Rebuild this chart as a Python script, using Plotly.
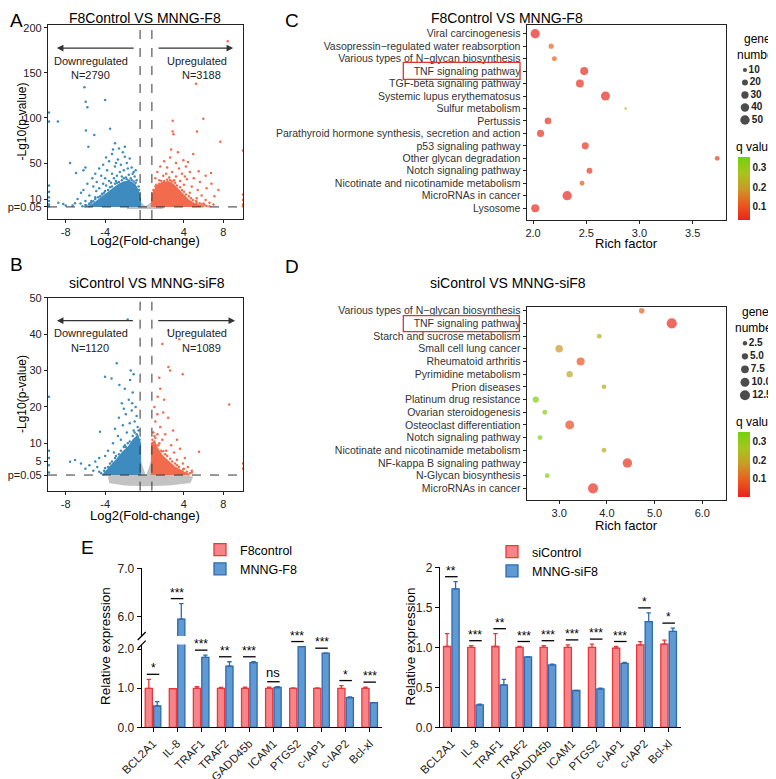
import plotly.graph_objects as go

W, H = 776, 779
OFF = 8  # the page body adds an 8 px margin; all positions below are given in window pixels
FONT = "Liberation Sans, Arial, Helvetica, sans-serif"
DARK = "#222222"
BLUE_PT = "#3E8BC0"
ORANGE_PT = "#F26B4C"
GREY_PT = "#C3C3C3"


def fx(px):
    return (px - OFF) / W


def fy(py):
    return 1 - (py - OFF) / H


# ---------------- Panel A : F8Control VS MNNG-F8 volcano ----------------
a_down_pts = [(-6.1, 134), (-5.97, 118), (-5.8, 112), (-4.0, 120), (-3.5, 88), (-5.95, 86), (-5.1, 81),
              (-9.7, 96), (-8.8, 96), (-9.7, 106), (-7.56, 50), (-6.95, 39), (-6.2, 42), (-6.0, 45),
              (-6.45, 17), (-7.06, 5.3), (-8.75, 6), (-8.25, 4.5), (-9.7, 4), (-9.7, 8), (-9.7, 12),
              (-9.7, 18), (-9.7, 25), (-9.7, 2), (-4.85, 29), (-5.7, 68), (-3.0, 72), (-2.6, 66),
              (-2.2, 62), (-3.3, 60), (-2.0, 57), (-1.5, 55), (-2.7, 54), (-3.6, 52), (-4.2, 48),
              (-1.8, 50), (-2.4, 48), (-3.0, 46), (-1.3, 45), (-4.6, 44), (-3.8, 42), (-2.1, 42),
              (-1.1, 40), (-5.0, 38), (-4.4, 36), (-3.3, 38), (-2.8, 36), (-1.6, 37), (-5.3, 33),
              (-4.0, 33), (-3.6, 30), (-5.8, 27), (-5.2, 24), (-4.6, 22), (-6.2, 20), (-5.6, 14),
              (-6.8, 10), (-6.0, 8), (-5.0, 12), (-4.3, 16), (-7.3, 3), (-6.5, 5), (-5.6, 4), (-8.0, 3),
              (-3.9, 25), (-2.5, 40), (-1.9, 34), (-1.4, 33), (-3.1, 33), (-4.9, 19), (-5.4, 8),
              (-1.0, 35), (-0.8, 31), (-2.3, 35), (-3.4, 28), (-4.2, 27), (-2.9, 30), (-1.2, 38),
              (-0.9, 42), (-1.7, 44), (-2.9, 50), (-3.9, 56), (-3.2, 65), (-2.0, 68),
              (-0.6, 24), (-0.9, 28), (-1.3, 31), (-1.8, 32), (-2.3, 31), (-2.8, 28), (-3.3, 24),
              (-3.7, 20), (-4.1, 17), (-4.5, 13), (-5.0, 10), (-5.4, 6), (-5.9, 3), (-6.3, 2),
              (-1.1, 29.5), (-2.1, 33), (-3.0, 27), (-4.0, 19), (-4.7, 12), (-5.2, 7.5), (-0.5, 15),
              (-0.55, 20), (-1.6, 30.5), (-2.6, 29), (-3.5, 23), (-4.3, 15), (-5.6, 5), (-6.0, 3.5)]
a_up_pts = [(8.45, 185), (5.23, 138), (2.86, 97), (5.97, 99), (2.86, 85), (2.95, 82), (5.33, 85),
            (7.7, 73.5), (6.75, 39), (3.94, 53), (4.94, 60), (5.63, 29), (6.3, 22), (7.1, 13),
            (10.0, 64), (10.0, 9), (10.0, 4), (10.0, 15), (10.0, 2), (2.0, 52), (2.6, 56), (3.2, 50),
            (1.6, 46), (2.3, 45), (3.5, 44), (4.2, 46), (1.3, 40), (2.8, 40), (3.8, 38), (4.6, 40),
            (1.9, 36), (3.2, 35), (4.3, 32), (5.0, 33), (2.5, 34), (1.1, 33), (4.0, 26), (4.8, 24),
            (5.4, 20), (4.6, 17), (5.8, 14), (6.2, 9), (5.3, 11), (6.6, 6), (7.0, 4), (6.0, 5),
            (3.6, 30), (2.2, 38), (3.0, 31), (1.5, 31), (6.8, 27), (5.5, 41), (4.4, 51), (3.4, 62),
            (2.7, 65), (6.2, 36), (7.5, 20), (4.1, 35),
            (0.8, 15), (0.9, 20), (1.1, 24), (1.5, 27), (2.0, 30), (2.6, 31), (3.1, 28), (3.6, 23),
            (4.0, 18), (4.5, 13), (4.9, 9), (5.3, 6), (5.8, 4), (6.3, 2.2), (1.2, 26), (1.7, 30),
            (2.3, 31.5), (2.8, 29.5), (3.3, 25), (3.8, 20), (4.2, 15), (4.7, 11), (5.2, 8), (5.6, 5.5),
            (6.1, 3.2), (6.6, 2)]
# outlines of the dense (overplotted) clouds
a_down_cloud = [(-0.45, 1.3), (-0.45, 10), (-0.7, 20), (-1.0, 26), (-1.5, 29), (-2.0, 29), (-2.6, 26),
                (-3.2, 21), (-3.8, 16), (-4.3, 11), (-4.8, 7), (-5.3, 3.5), (-5.7, 1.3)]
a_up_cloud = [(0.75, 1.3), (0.75, 10), (0.95, 18), (1.3, 24), (1.8, 28), (2.4, 29), (2.9, 26), (3.4, 20),
              (3.9, 14), (4.4, 9), (5.0, 5), (5.6, 2.5), (6.0, 1.3)]
a_ns_cloud = [(-1.8, 0.2), (1.9, 0.2), (1.6, 1.3), (0.75, 1.3), (0.75, 6), (0.5, 4), (0.2, 1.5),
              (0.0, 1.5), (-0.2, 4), (-0.45, 6), (-0.45, 1.3), (-1.5, 1.3)]
a_counts = {"down": 2790, "up": 3188}

# ---------------- Panel B : siControl VS MNNG-siF8 volcano ----------------
b_down_pts = [(-1.71, 44), (-2.82, 32), (-4.01, 28.3), (-3.35, 27.8), (-1.47, 27.4), (-2.55, 26),
              (-2.0, 25), (-1.2, 24), (-1.6, 22), (-2.3, 21), (-0.9, 20), (-1.3, 19), (-1.9, 18),
              (-2.6, 17), (-1.0, 16), (-1.5, 15.5), (-2.2, 15), (-0.7, 14.5), (-1.1, 13.5), (-1.8, 13),
              (-2.7, 12), (-4.52, 13.2), (-3.2, 10), (-2.4, 11), (-3.7, 8), (-4.6, 6), (-4.0, 6.5),
              (-5.0, 5), (-5.6, 4), (-3.1, 7.5), (-7.56, 4.95), (-7.05, 5.4), (-6.45, 4.5), (-6.0, 3),
              (-5.2, 2.5), (-4.8, 3.5), (-9.7, 2), (-9.7, 4), (-9.7, 6), (-9.7, 8), (-9.7, 22.8),
              (-1.4, 30), (-1.1, 29), (-2.1, 19.5), (-0.8, 17.5), (-1.25, 21), (-3.0, 14), (-2.0, 9.5),
              (-0.5, 11), (-0.8, 12.5), (-1.2, 12), (-1.5, 10.5), (-1.9, 9), (-2.4, 8), (-2.9, 6.5),
              (-3.3, 5), (-3.7, 3.5), (-4.1, 2.5), (-4.4, 1.8), (-1.0, 13), (-1.7, 10), (-2.6, 7),
              (-3.5, 4.5), (-4.0, 3.2), (-0.6, 13.5), (-2.1, 9), (-3.0, 6), (-4.6, 2.2)]
b_up_pts = [(2.42, 41), (3.53, 38.6), (1.81, 37.3), (2.42, 31), (2.6, 30), (3.88, 29), (1.5, 28),
            (1.34, 22.8), (8.6, 20.7), (1.3, 18), (1.9, 18.5), (2.4, 17), (1.1, 16), (1.6, 14.5),
            (2.9, 13.5), (2.1, 12.5), (1.3, 12.5), (3.3, 11), (1.8, 11), (2.7, 9.5), (3.6, 8.5),
            (3.0, 7.5), (4.1, 6), (5.53, 7.7), (4.4, 3.5), (3.9, 4.5), (2.2, 8), (10.0, 3), (10.0, 4.5),
            (1.0, 20), (2.0, 22), (1.6, 25), (4.8, 2.5), (3.3, 5.5),
            (0.8, 11), (1.1, 11.5), (1.4, 9.5), (1.7, 8), (2.1, 7), (2.6, 5.8), (3.1, 4.5), (3.5, 3.5),
            (3.9, 2.8), (4.3, 2.2), (4.6, 1.8), (1.0, 12), (1.5, 10), (2.3, 6.5), (2.8, 5), (3.3, 4),
            (4.0, 3), (4.8, 2), (0.9, 13), (1.9, 7.8)]
b_down_cloud = [(-0.45, 1.3), (-0.45, 10), (-0.7, 12), (-1.1, 11), (-1.6, 9), (-2.2, 7.5), (-2.8, 5.5),
                (-3.4, 3.8), (-3.9, 2.2), (-4.2, 1.3)]
b_up_cloud = [(0.75, 1.3), (0.75, 10), (1.0, 10.5), (1.3, 8.5), (1.8, 6.5), (2.4, 5), (3.0, 3.5),
              (3.6, 2.6), (4.2, 1.8), (4.5, 1.3)]
b_ns_cloud = [(-3.6, -0.6), (-2.0, -1.3), (0.0, -1.5), (2.5, -1.3), (4.6, -0.6), (4.8, 0.6), (3.5, 1.3),
              (0.75, 1.3), (0.75, 5), (0.15, 0.2), (-0.45, 5), (-0.45, 1.3), (-3.0, 1.3), (-3.7, 0.6)]
b_counts = {"down": 1120, "up": 1089}

fc_thresholds = [-0.45, 0.75]
p_threshold = 1.3

# ---------------- Panel C : KEGG enrichment F8Control VS MNNG-F8 ----------------
c_terms = ["Viral carcinogenesis", "Vasopressin\u2212regulated water reabsorption",
           "Various types of N\u2212glycan biosynthesis", "TNF signaling pathway",
           "TGF-beta signaling pathway", "Systemic lupus erythematosus", "Sulfur metabolism",
           "Pertussis", "Parathyroid hormone synthesis, secretion and action", "p53 signaling pathway",
           "Other glycan degradation", "Notch signaling pathway",
           "Nicotinate and nicotinamide metabolism", "MicroRNAs in cancer", "Lysosome"]
c_rich = [2.02, 2.17, 2.20, 2.48, 2.44, 2.68, 2.87, 2.14, 2.07, 2.49, 3.73, 2.53, 2.46, 2.32, 2.02]
c_genes = [49, 15, 14, 36, 35, 46, 4, 25, 29, 28, 13, 20, 13, 49, 36]
c_q = [0.035, 0.12, 0.12, 0.04, 0.05, 0.04, 0.24, 0.05, 0.05, 0.05, 0.06, 0.06, 0.10, 0.04, 0.04]
c_size_legend = [10, 20, 30, 40, 50]

# ---------------- Panel D : KEGG enrichment siControl VS MNNG-siF8 ----------------
d_terms = ["Various types of N\u2212glycan biosynthesis", "TNF signaling pathway",
           "Starch and sucrose metabolism", "Small cell lung cancer", "Rheumatoid arthritis",
           "Pyrimidine metabolism", "Prion diseases", "Platinum drug resistance",
           "Ovarian steroidogenesis", "Osteoclast differentiation", "Notch signaling pathway",
           "Nicotinate and nicotinamide metabolism", "NF-kappa B signaling pathway",
           "N-Glycan biosynthesis", "MicroRNAs in cancer"]
d_rich = [4.73, 5.36, 3.84, 3.0, 3.45, 3.22, 3.94, 2.51, 2.70, 3.22, 2.60, 3.94, 4.43, 2.75, 3.71]
d_genes = [4, 13, 3, 7, 8, 5, 3, 5, 3, 10, 3, 3, 11, 3, 13]
d_q = [0.10, 0.01, 0.22, 0.17, 0.08, 0.20, 0.22, 0.34, 0.33, 0.06, 0.33, 0.22, 0.02, 0.33, 0.02]
d_size_legend = [2.5, 5.0, 7.5, 10.0, 12.5]

# ---------------- Panel E : qPCR ----------------
e_genes = ["BCL2A1", "IL-8", "TRAF1", "TRAF2", "GADD45b", "ICAM1", "PTGS2", "c-IAP1", "c-IAP2", "Bcl-xl"]
el_ctrl = [1.0, 0.99, 1.0, 1.0, 1.0, 1.0, 1.0, 1.0, 1.0, 1.0]
el_ctrl_err = [0.23, 0.0, 0.04, 0.02, 0.03, 0.03, 0.01, 0.01, 0.07, 0.03]
el_mnng = [0.55, 5.95, 1.79, 1.57, 1.66, 1.02, 2.07, 1.90, 0.76, 0.63]
el_mnng_err = [0.11, 0.32, 0.06, 0.11, 0.02, 0.02, 0.0, 0.0, 0.02, 0.0]
el_sig = ["*", "***", "***", "**", "***", "ns", "***", "***", "*", "***"]

er_ctrl = [1.01, 1.0, 1.01, 1.0, 1.0, 1.0, 1.0, 0.99, 1.03, 1.04]
er_ctrl_err = [0.16, 0.02, 0.16, 0.01, 0.02, 0.03, 0.04, 0.02, 0.04, 0.05]
er_si = [1.73, 0.28, 0.53, 0.88, 0.78, 0.46, 0.48, 0.80, 1.32, 1.20]
er_si_err = [0.09, 0.01, 0.07, 0.0, 0.01, 0.0, 0.01, 0.01, 0.11, 0.04]
er_sig = ["**", "***", "**", "***", "***", "***", "***", "***", "*", "*"]

# ================= figure =================
fig = go.Figure()

# geometry (window pixels)
VA = dict(x0=48, x1=243, y0=25, y1=219)
VB = dict(x0=48, x1=243, y0=297.7, y1=490.7)
DC = dict(x0=526.7, x1=725.7, y0=25, y1=220)
DD = dict(x0=526.7, x1=725.7, y0=306.7, y1=500)
EL = dict(x0=141.7, x1=381.7)
EL_LOW = (727.3, 644.6)
EL_UP = (636.0, 568.3)
ER = dict(x0=440, x1=680.7, y0=567.3, y1=727.3)


def xdom(g):
    return [fx(g["x0"]), fx(g["x1"])]


def ydom(g):
    return [fy(g["y1"]), fy(g["y0"])]


def add_volcano(xa, ya, ns_cloud, down_cloud, up_cloud, down_pts, up_pts):
    for poly, col in ((ns_cloud, GREY_PT), (down_cloud, BLUE_PT), (up_cloud, ORANGE_PT)):
        fig.add_trace(go.Scatter(x=[p[0] for p in poly], y=[p[1] for p in poly], mode="lines",
                                 fill="toself", fillcolor=col, line=dict(color=col, width=2),
                                 hoverinfo="skip", showlegend=False, xaxis=xa, yaxis=ya))
    for pts, col in ((down_pts, BLUE_PT), (up_pts, ORANGE_PT)):
        fig.add_trace(go.Scatter(x=[p[0] for p in pts], y=[p[1] for p in pts], mode="markers",
                                 marker=dict(color=col, size=2.5, line=dict(width=0)),
                                 showlegend=False, xaxis=xa, yaxis=ya))


add_volcano("x", "y", a_ns_cloud, a_down_cloud, a_up_cloud, a_down_pts, a_up_pts)
add_volcano("x2", "y2", b_ns_cloud, b_down_cloud, b_up_cloud, b_down_pts, b_up_pts)

CSCALE = [[0.0, "#E8231E"], [0.25, "#EB5A1E"], [0.5, "#C99A26"], [0.75, "#A8C41E"], [1.0, "#72D20C"]]


def add_dots(xa, ya, rich, terms, genes, q, sizeref, cmin, cmax, cb_y, cb_len):
    fig.add_trace(go.Scatter(
        x=rich, y=terms, mode="markers", xaxis=xa, yaxis=ya, showlegend=False,
        marker=dict(size=genes, sizemode="area", sizeref=sizeref, color=q, colorscale=CSCALE,
                    cmin=cmin, cmax=cmax, line=dict(width=0),
                    colorbar=dict(x=fx(738), xanchor="left", xpad=0, y=cb_y, yanchor="middle",
                                  len=cb_len, lenmode="fraction", thickness=12, ypad=0,
                                  outlinewidth=0, ticks="", tickvals=[0.1, 0.2, 0.3],
                                  ticktext=["<b>0.1</b>", "<b>0.2</b>", "<b>0.3</b>"],
                                  tickfont=dict(size=10, color=DARK, family=FONT)))))


C_SREF = 1.13
D_SREF = 0.25
add_dots("x3", "y3", c_rich, c_terms, c_genes, c_q, C_SREF, 0.032, 0.356,
         fy((156.7 + 220) / 2), 63.3 / H)
add_dots("x4", "y4", d_rich, d_terms, d_genes, d_q, D_SREF, 0.0, 0.356,
         fy((431.7 + 496.7) / 2), 65 / H)

# size legends drawn as markers on small auxiliary axes
for xa, ya, vals, sref, fmt in (("x8", "y8", c_size_legend, C_SREF, "{:g}"),
                                ("x9", "y9", d_size_legend, D_SREF, "{:.1f}")):
    fig.add_trace(go.Scatter(
        x=[0] * len(vals), y=[fmt.format(v) for v in vals], mode="markers+text",
        text=["<b>" + fmt.format(v) + "</b>" for v in vals], textposition="middle right",
        textfont=dict(size=10, color=DARK, family=FONT),
        marker=dict(size=vals, sizemode="area", sizeref=sref, color="black", line=dict(width=0)),
        showlegend=False, xaxis=xa, yaxis=ya, cliponaxis=False))

# bars
RED_FILL, RED_LINE = "#F6858A", "#E8383D"
BLU_FILL, BLU_LINE = "#6199D2", "#2C6BB0"


def bar(x, y, err, fill, line, name, xa, ya, legend, show):
    return go.Bar(x=x, y=y, name=name, xaxis=xa, yaxis=ya, legend=legend, showlegend=show,
                  marker=dict(color=fill, line=dict(color=line, width=1.3)),
                  error_y=dict(type="data", array=err, arrayminus=[0] * len(err), symmetric=False,
                               color=line, thickness=1.3, width=2.2))


for xa, ya, show in (("x5", "y5", True), ("x6", "y6", False)):
    fig.add_trace(bar(e_genes, el_ctrl, el_ctrl_err, RED_FILL, RED_LINE, "F8control", xa, ya, "legend", show))
    fig.add_trace(bar(e_genes, el_mnng, el_mnng_err, BLU_FILL, BLU_LINE, "MNNG-F8", xa, ya, "legend", show))
fig.add_trace(bar(e_genes, er_ctrl, er_ctrl_err, RED_FILL, RED_LINE, "siControl", "x7", "y7", "legend2", True))
fig.add_trace(bar(e_genes, er_si, er_si_err, BLU_FILL, BLU_LINE, "MNNG-siF8", "x7", "y7", "legend2", True))

# ---------------- axes ----------------
TICKF = dict(size=11, color=DARK, family=FONT)
box = dict(showline=True, mirror=True, linecolor=DARK, linewidth=1.3, ticks="outside", ticklen=3,
           tickcolor=DARK, showgrid=False, zeroline=False, tickfont=TICKF, automargin=False)
CATF = dict(size=10.5, color="#333333", family=FONT)

X_RANGE = [-9.8, 10.0]
lay = dict(
    xaxis=dict(domain=xdom(VA), range=X_RANGE, anchor="y", tickvals=[-8, -4, 4, 8],
               ticktext=["-8", "-4", "4", "8"], **box),
    yaxis=dict(domain=ydom(VA), range=[-12.1, 203.1], anchor="x",
               tickvals=[p_threshold, 10, 50, 100, 150, 200],
               ticktext=["p=0.05", "10", "50", "100", "150", "200"], **box),
    xaxis2=dict(domain=xdom(VB), range=X_RANGE, anchor="y2", tickvals=[-8, -4, 4, 8],
                ticktext=["-8", "-4", "4", "8"], **box),
    yaxis2=dict(domain=ydom(VB), range=[-3.0, 50.0], anchor="x2",
                tickvals=[p_threshold, 5, 10, 20, 30, 40, 50],
                ticktext=["p=0.05", "5", "10", "20", "30", "40", "50"], **box),
    xaxis3=dict(domain=xdom(DC), range=[1.94, 3.81], anchor="y3", tickvals=[2.0, 2.5, 3.0, 3.5],
                tickformat=".1f", **box),
    yaxis3=dict(domain=ydom(DC), anchor="x3", type="category", categoryorder="array",
                categoryarray=c_terms, range=[len(c_terms) - 1 + 0.95, -0.7],
                tickmode="array", tickvals=c_terms, **{**box, "tickfont": CATF}),
    xaxis4=dict(domain=xdom(DD), range=[2.32, 6.49], anchor="y4", tickvals=[3.0, 4.0, 5.0, 6.0],
                tickformat=".1f", **box),
    yaxis4=dict(domain=ydom(DD), anchor="x4", type="category", categoryorder="array",
                categoryarray=d_terms, range=[len(d_terms) - 1 + 0.92, -0.32],
                tickmode="array", tickvals=d_terms, **{**box, "tickfont": CATF}),
)

ebase = dict(showline=True, linecolor="black", linewidth=1.3, ticks="outside", ticklen=4,
             tickcolor="black", showgrid=False, zeroline=False, automargin=False,
             tickfont=dict(size=12, color=DARK, family=FONT))
EXF = dict(size=11.5, color=DARK, family=FONT)
E_XR = [-0.47, 9.5]
lay.update(
    xaxis5=dict(domain=xdom(EL), anchor="y5", type="category", range=E_XR, tickangle=-45,
                tickmode="array", tickvals=e_genes, **{**ebase, "tickfont": EXF}),
    yaxis5=dict(domain=[fy(EL_LOW[0]), fy(EL_LOW[1])], range=[0, 2.12], anchor="x5",
                tickvals=[0, 1, 2], ticktext=["0.0", "1.0", "2.0"], **ebase),
    xaxis6=dict(domain=xdom(EL), anchor="y6", type="category", range=E_XR, showline=False,
                showticklabels=False, ticks="", showgrid=False, zeroline=False, automargin=False),
    yaxis6=dict(domain=[fy(EL_UP[0]), fy(EL_UP[1])], range=[5.6, 7.0], anchor="x6",
                tickvals=[6, 7], ticktext=["6.0", "7.0"], **ebase),
    xaxis7=dict(domain=xdom(ER), anchor="y7", type="category", range=E_XR, tickangle=-45,
                tickmode="array", tickvals=e_genes, **{**ebase, "tickfont": EXF}),
    yaxis7=dict(domain=ydom(ER), range=[0, 2.0], anchor="x7", tickvals=[0, 0.5, 1.0, 1.5, 2.0],
                ticktext=["0.0", "0.5", "1.0", "1.5", "2"], **ebase),
)
hidden = dict(visible=False, showgrid=False, zeroline=False, automargin=False)
lay.update(
    xaxis8=dict(domain=[fx(739), fx(776)], range=[-1, 5.2], anchor="y8", **hidden),
    yaxis8=dict(domain=[fy(126.25), fy(63.75)], type="category", range=[4.5, -0.5], anchor="x8", **hidden),
    xaxis9=dict(domain=[fx(739), fx(776)], range=[-1, 5.2], anchor="y9", **hidden),
    yaxis9=dict(domain=[fy(401.8), fy(336.8)], type="category", range=[4.5, -0.5], anchor="x9", **hidden),
)

annotations = []
shapes = []


def ann(text, x, y, size=12, xanchor="center", yanchor="middle", **kw):
    d = dict(text=text, x=x, y=y, xref="paper", yref="paper", showarrow=False,
             xanchor=xanchor, yanchor=yanchor,
             font=dict(size=size, color=kw.pop("color", "black"), family=FONT))
    d.update(kw)
    annotations.append(d)


# panel letters (the first ones sit against the window's top/left edge)
ann("A", fx(8), fy(8), size=19, xanchor="left", yanchor="top")
ann("B", fx(8), fy(265), size=19, xanchor="left")
ann("C", fx(292), fy(8), size=19, yanchor="top")
ann("D", fx(292), fy(266.7), size=19)
ann("E", fx(87.5), fy(547), size=19)
# titles
ann("F8Control VS MNNG-F8", fx(145), fy(8), size=14, yanchor="top")
ann("siControl VS MNNG-siF8", fx(147), fy(283), size=14)
ann("F8Control VS MNNG-F8", fx(507), fy(8), size=14, yanchor="top")
ann("siControl VS MNNG-siF8", fx(508), fy(283.3), size=14)
# axis titles
ann("-Lg10(p-value)", fx(21.5), fy(122), size=12, textangle=-90)
ann("-Lg10(p-value)", fx(22), fy(394), size=12, textangle=-90)
ann("Log2(Fold-change)", fx(145), fy(240), size=13)
ann("Log2(Fold-change)", fx(145), fy(515), size=13)
ann("Rich factor", fx(626.7), fy(243), size=13)
ann("Rich factor", fx(626.7), fy(525), size=13)
ann("Relative expression", fx(105), fy(646), size=13.5, textangle=-90)
ann("Relative expression", fx(410.7), fy(646.7), size=13.5, textangle=-90)
# legend titles for dot plots
ann("gene<br>number", fx(757), fy(46.5), size=12)
ann("q value", fx(755), fy(147), size=12)
ann("gene<br>number", fx(755), fy(320.5), size=12)
ann("q value", fx(755), fy(421.7), size=12)

# volcano arrows and counts
for xa, ya, yarr, ytxt, ycnt, cnt, arr in (
        ("x", "y", 177.5, 163, 147.5, a_counts, ((-0.95, -8.9), (1.27, 9.0))),
        ("x2", "y2", 43.7, 40.2, 36.3, b_counts, ((-1.03, -8.9), (1.24, 9.2)))):
    for tail, head in arr:
        annotations.append(dict(x=head, y=yarr, ax=tail, ay=yarr, xref=xa, yref=ya, axref=xa, ayref=ya,
                                text="", showarrow=True, arrowhead=2, arrowsize=1.1, arrowwidth=1.2,
                                arrowcolor="#333333"))
    for tx, ty, txt in ((-5.4, ytxt, "Downregulated"), (-5.5, ycnt, "N=%d" % cnt["down"]),
                        (5.3, ytxt, "Upregulated"), (5.8, ycnt, "N=%d" % cnt["up"])):
        annotations.append(dict(x=tx, y=ty, xref=xa, yref=ya, text=txt, showarrow=False,
                                xanchor="center", yanchor="middle",
                                font=dict(size=11, color=DARK, family=FONT)))
    for t in fc_thresholds:
        shapes.append(dict(type="line", xref=xa, yref=ya + " domain", x0=t, x1=t, y0=0, y1=1,
                           line=dict(color="#333333", width=1, dash="dash")))
    shapes.append(dict(type="line", xref=xa + " domain", yref=ya, x0=0, x1=1, y0=p_threshold,
                       y1=p_threshold, line=dict(color="#333333", width=1, dash="dash")))

# TNF highlight boxes
shapes.append(dict(type="rect", xref="paper", yref="paper", x0=fx(403.3), x1=fx(520), y0=fy(79.3),
                   y1=fy(62.3), line=dict(color="#E0332D", width=1.3)))
shapes.append(dict(type="rect", xref="paper", yref="paper", x0=fx(403.3), x1=fx(519.3), y0=fy(331.7),
                   y1=fy(315.7), line=dict(color="#E0332D", width=1.3)))

# axis break marks on E-left
for yb in (636, 644.6):
    shapes.append(dict(type="line", xref="paper", yref="paper", x0=fx(137.7), x1=fx(145.7),
                       y0=fy(yb + 4), y1=fy(yb - 4), line=dict(color="black", width=1.3)))


# significance marks (positions derived from bar heights via the axis scales)
def lin(v, r, d):
    return d[0] + (v - r[0]) / (r[1] - r[0]) * (d[1] - d[0])


def add_sig(i, top, label, xr, xd, yr, yd):
    y = lin(top, yr, yd) + 5 / H
    shapes.append(dict(type="line", xref="paper", yref="paper", x0=lin(i - 0.26, xr, xd),
                       x1=lin(i + 0.26, xr, xd), y0=y, y1=y, line=dict(color="black", width=1.3)))
    star = label != "ns"
    annotations.append(dict(text=label, x=lin(i, xr, xd), y=y, xref="paper", yref="paper",
                            showarrow=False, xanchor="center", yanchor="bottom",
                            yshift=-3 if star else 0,
                            font=dict(size=12 if star else 13, color="black", family=FONT)))


EL_XD = xdom(EL)
for i, lab in enumerate(el_sig):
    top = max(el_ctrl[i] + el_ctrl_err[i], el_mnng[i] + el_mnng_err[i])
    if top <= 2.12:
        add_sig(i, top, lab, E_XR, EL_XD, [0, 2.12], [fy(EL_LOW[0]), fy(EL_LOW[1])])
    else:
        add_sig(i, top, lab, E_XR, EL_XD, [5.6, 7.0], [fy(EL_UP[0]), fy(EL_UP[1])])
for i, lab in enumerate(er_sig):
    top = max(er_ctrl[i] + er_ctrl_err[i], er_si[i] + er_si_err[i])
    add_sig(i, top, lab, E_XR, xdom(ER), [0, 2.0], ydom(ER))

leg = dict(xanchor="left", yanchor="top", bgcolor="rgba(0,0,0,0)", borderwidth=0,
           font=dict(size=12.5, color="black", family=FONT), itemwidth=30, tracegroupgap=0)

fig.update_layout(
    template="none",
    width=W, height=H, margin=dict(l=0, r=0, t=0, b=0, pad=0, autoexpand=False),
    paper_bgcolor="white", plot_bgcolor="white",
    font=dict(family=FONT, color="black"),
    barmode="group", bargap=0.3, bargroupgap=0.15,
    legend=dict(x=fx(200), y=fy(535), **leg),
    legend2=dict(x=fx(492), y=fy(537), **leg),
    annotations=annotations, shapes=shapes, **lay)

fig.write_html("out.html")
